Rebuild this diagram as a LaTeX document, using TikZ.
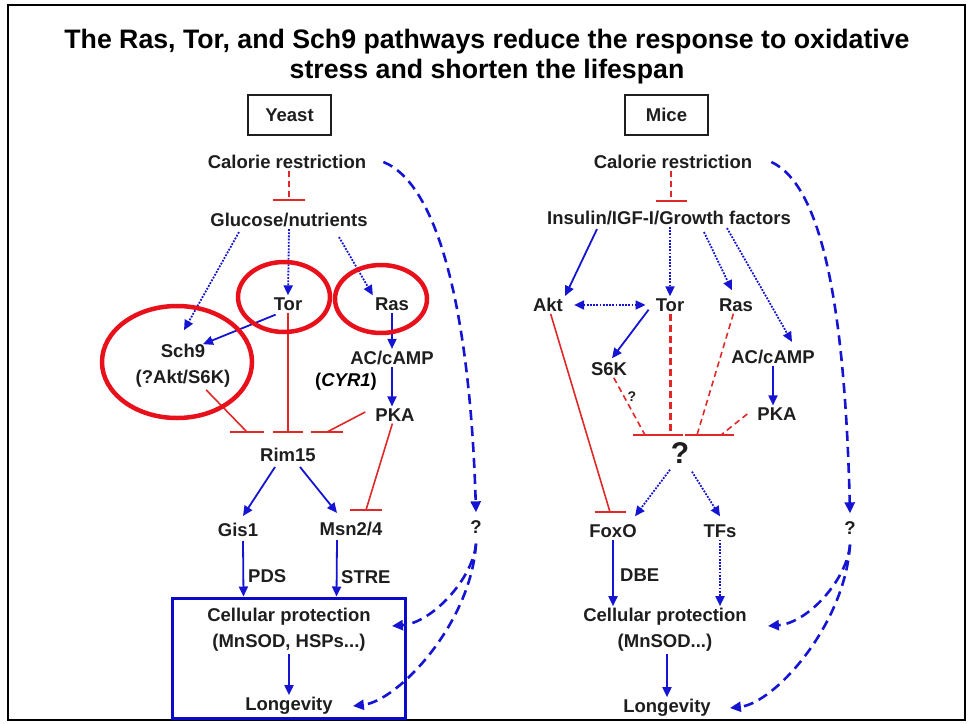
\documentclass[tikz,border=0pt]{standalone}
\usepackage{fontspec}
\setmainfont{Liberation Sans}
\usepackage{xcolor}
\usepackage{tikz}
\usetikzlibrary{calc,arrows.meta}
\definecolor{ink}{HTML}{1E1E1E}
\definecolor{frame}{HTML}{000000}
\definecolor{actblue}{HTML}{1414D2}
\definecolor{boxblue}{HTML}{0A0AC8}
\definecolor{inhred}{HTML}{E02828}
\definecolor{ringred}{HTML}{E8101A}
\tikzset{
  >={Triangle[length=10pt,width=9pt]},
  lab/.style={text=ink, font=\bfseries\fontsize{18.5}{26}\selectfont, inner sep=2pt, align=center},
  ttl/.style={text=black, font=\bfseries\fontsize{26.7}{30}\selectfont, align=center},
  spbox/.style={lab, draw=ink, line width=1.3pt, minimum width=83pt, minimum height=40pt},
  act/.style={draw=actblue, line width=1.8pt, ->},
  dotact/.style={act, dash pattern=on 1.8pt off 1.4pt},
  farlink/.style={draw=actblue, line width=2.6pt, dash pattern=on 10pt off 6pt, -{Triangle[length=11pt,width=10pt]}},
  inh/.style={draw=inhred, line width=1.6pt},
  inhdash/.style={inh, dash pattern=on 6pt off 4pt},
  inhthick/.style={inh, line width=3pt, dash pattern=on 7pt off 4pt},
  teebar/.style={draw=inhred, line width=2pt},
  ring/.style={draw=ringred, line width=4.5pt},
  hl/.style={draw=boxblue, line width=3pt}
}
\newcommand{\inhbar}[2]{\draw[teebar] ($(#1)+(-#2,0)$) -- ($(#1)+(#2,0)$);}

\begin{document}
\begin{tikzpicture}[x=1pt,y=-1pt]
  \useasboundingbox (0,0) rectangle (969,723);
  \draw[draw=frame, line width=2pt] (8,5) rectangle (965,720);
  \node[ttl] (title) at (487,57) {The Ras, Tor, and Sch9 pathways reduce the response to oxidative\\stress and shorten the lifespan};

  % yeast
  \node[spbox] (yeast) at (289.5,115) {Yeast};
  \node[lab] (crL) at (287,162) {Calorie restriction};
  \node[lab] (glc) at (289,220) {Glucose/nutrients};
  \node[lab] (torL) at (288,304) {Tor};
  \node[lab] (rasL) at (392,304) {Ras};
  \node[lab] (sch9) at (183,366) {Sch9\\(?Akt/S6K)};
  \node[lab] (acL) at (392,358) {AC/cAMP};
  \node[lab, text=black] (cyr) at (346,382) {(\textit{CYR1})};
  \node[lab] (pkaL) at (395,415) {PKA};
  \node[lab] (rim) at (288,455) {Rim15};
  \node[lab] (gis) at (238,530) {Gis1};
  \node[lab] (msn) at (351,529) {Msn2/4};
  \node[lab, anchor=west] (pds) at (246,576) {PDS};
  \node[lab, anchor=west] (stre) at (339,577) {STRE};
  \node[lab] (qY) at (476,527) {?};
  \node[hl, minimum width=233pt, minimum height=120pt] (hlbox) at (288.5,658) {};
  \node[lab] (protL) at (289,630) {Cellular protection\\(MnSOD, HSPs...)};
  \node[lab] (lonL) at (289,706) {Longevity};

  \coordinate (bCL) at (289,200);
  \coordinate (bA) at (247,432);
  \coordinate (bB) at (288,432);
  \coordinate (bC) at (327,432);
  \coordinate (bM) at (366,510);

  \draw[inhdash] (bCL |- crL.south) -- (bCL);
  \inhbar{bCL}{16}
  \draw[dotact] ($(glc.south)+(-50,3)$) -- ($(sch9.north)+(1,-12)$);
  \draw[dotact] (glc.south) -- (torL.north);
  \draw[dotact] ($(glc.south)+(50,8)$) -- (rasL.north west);
  \draw[act] ($(torL.south west)+(4,2)$) -- ($(sch9.north)+(20,2)$);
  \draw[act] (rasL.south) -- (acL.north);
  \draw[act] (acL.south) -- (acL.south |- pkaL.north);
  \draw[inh] (sch9) -- (bA);
  \draw[inh] (torL.south) -- (bB);
  \draw[inh] ($(pkaL.west)+(-8,-3)$) -- (bC);
  \draw[inh] (pkaL) -- (bM);
  \inhbar{bA}{17}
  \inhbar{bB}{15}
  \inhbar{bC}{16}
  \inhbar{bM}{16}
  \draw[act] ($(rim.south)+(-13,3)$) -- ($(gis.north)+(5,-5)$);
  \draw[act] ($(rim.south)+(12,3)$) -- ($(msn.north)+(-14,-7)$);
  \draw[act] ($(gis.south)+(5,2)$) -- ($(hlbox.north)+(-45,0)$);
  \draw[act] ($(msn.south)+(-14,2)$) -- ($(hlbox.north)+(48,0)$);
  \draw[act] (protL.south) -- (lonL.north);
  \draw[farlink] ($(crL.east)+(15,0)$) .. controls +(55,22) and +(-6,-200) .. ($(qY.north)+(0,-6)$);
  \draw[farlink] ($(qY.south)+(0,8)$) .. controls +(-3,35) and +(40,-3) .. ($(protL.east)+(19,-4)$);
  \draw[farlink] ($(qY.south)+(0,8)$) .. controls +(-5,80) and +(45,-5) .. ($(lonL.east)+(18,0)$);

  % mice
  \node[spbox] (mice) at (666.5,115) {Mice};
  \node[lab] (crR) at (673,162) {Calorie restriction};
  \node[lab] (ins) at (669,218) {Insulin/IGF-I/Growth factors};
  \node[lab] (aktR) at (548,305) {Akt};
  \node[lab] (torR) at (670,305) {Tor};
  \node[lab] (rasR) at (736,305) {Ras};
  \node[lab] (s6k) at (609,369) {S6K};
  \node[lab] (acR) at (773,357) {AC/cAMP};
  \node[lab] (pkaR) at (777,414) {PKA};
  \node[lab, font=\bfseries\fontsize{14}{16}\selectfont] (qsmall) at (632,397) {?};
  \node[lab, font=\bfseries\fontsize{30}{32}\selectfont] (qbig) at (680,453) {?};
  \node[lab] (foxo) at (613,531) {FoxO};
  \node[lab] (tfs) at (720,531) {TFs};
  \node[lab, anchor=west] (dbe) at (618,575) {DBE};
  \node[lab] (qM) at (850,528) {?};
  \node[lab] (protR) at (665,630) {Cellular protection\\(MnSOD...)};
  \node[lab] (lonR) at (667,708) {Longevity};

  \coordinate (bCR) at (671,201);
  \coordinate (bF) at (610,512);
  \coordinate (bS) at (645,435);
  \coordinate (bT) at (670,435);
  \coordinate (bR) at (697,435);
  \coordinate (bP) at (721,435);

  \draw[inhdash] (bCR |- crR.south) -- (bCR);
  \inhbar{bCR}{15.5}
  \draw[act] ($(ins.south)+(-72,2)$) -- (aktR.north east);
  \draw[dotact] ($(ins.south)+(1,0)$) -- (torR.north);
  \draw[dotact] ($(ins.south)+(35,5)$) -- ($(rasR.north)+(-4,-6)$);
  \draw[dotact] ($(ins.south)+(58,1)$) -- ($(acR.north)+(19,-6)$);
  \draw[dotact, <->] ($(aktR.east)+(9,0)$) -- ($(torR.west)+(-8,0)$);
  \draw[act] ($(torR.south west)+(-5,-4)$) -- ($(s6k.north)+(3,-2)$);
  \draw[act] (acR.south) -- (acR.south |- pkaR.north);
  \draw[inh] (aktR) -- (bF);
  \draw[inhdash] (s6k) -- (bS);
  \draw[inhthick] (torR.south) -- (bT);
  \draw[inhdash] (rasR) -- (bR);
  \draw[inhdash] ($(pkaR.west)+(-8,0)$) -- (bP);
  \inhbar{bF}{15.5}
  \inhbar{bS}{12.5}
  \inhbar{bT}{12.5}
  \inhbar{bR}{12.5}
  \inhbar{bP}{12.5}
  \draw[dotact] ($(qbig.south)+(-10,4)$) -- ($(foxo.north)+(22,-6)$);
  \draw[dotact] ($(qbig.south)+(12,6)$) -- ($(tfs.north)+(0,-6)$);
  \draw[act] (foxo.south) -- (foxo.south |- protR.north);
  \draw[dotact] (tfs.south) -- (tfs.south |- protR.north);
  \draw[act] (lonR.north |- protR.south) -- (lonR.north);
  \draw[farlink] ($(crR.east)+(17,0)$) .. controls +(52,24) and +(-5,-200) .. ($(qM.north)+(0,-6)$);
  \draw[farlink] ($(qM.south)+(0,8)$) .. controls +(-3,35) and +(40,-3) .. ($(protR.east)+(19,-4)$);
  \draw[farlink] ($(qM.south)+(0,8)$) .. controls +(-5,80) and +(45,-5) .. ($(lonR.east)+(17,0)$);

  % highlight rings
  \draw[ring] (284,297) ellipse [x radius=46pt, y radius=35pt];
  \draw[ring] (381,299) ellipse [x radius=46pt, y radius=34pt];
  \draw[ring] (177,362) ellipse [x radius=75pt, y radius=56pt];
\end{tikzpicture}
\end{document}
